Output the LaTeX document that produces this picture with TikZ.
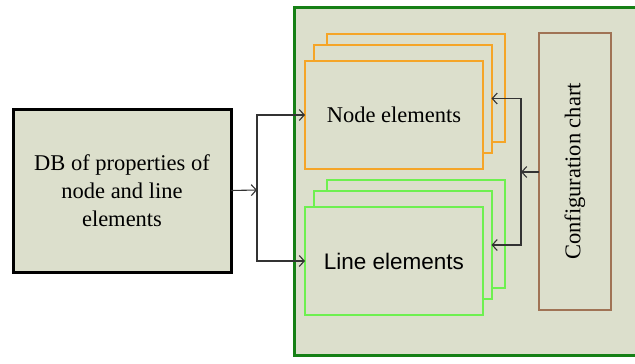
\documentclass[tikz,border=0pt]{standalone}
\usepackage{fontspec}
\setmainfont{Liberation Serif}
\setsansfont{Liberation Sans}
\usetikzlibrary{arrows.meta}
\definecolor{bgc}{RGB}{220,223,204}
\definecolor{darkgr}{RGB}{22,128,22}
\definecolor{orng}{RGB}{245,165,40}
\definecolor{lgrn}{RGB}{110,240,80}
\definecolor{brwn}{RGB}{160,115,85}
\begin{document}
\begin{tikzpicture}[x=1pt,y=-1pt,
  txt/.style={font=\fontsize{22.5}{28}\selectfont, align=center},
  box/.style={draw, fill=bgc, inner sep=0pt, outer sep=0pt},
  obox/.style={box, draw=orng, line width=2pt, minimum width=178pt, minimum height=108pt},
  gbox/.style={box, draw=lgrn, line width=2pt, minimum width=178pt, minimum height=108pt},
  conn/.style={draw=black!80, line width=1.1pt},
  tip/.style={-{Straight Barb[length=5pt,width=11pt,line width=1.1pt]}}
]
\useasboundingbox (0,0) rectangle (635,364);
% outer container
\fill[bgc] (294,7) rectangle (635,355);
\draw[darkgr, line width=3pt] (635,7) -- (294,7) -- (294,355) -- (635,355);
% DB box
\node[box, draw=black, line width=3pt, minimum width=218pt, minimum height=163pt, txt] (db) at (122,190.5) {DB of properties of\\node and line\\elements};
% orange stack
\node[obox] (oback) at (415.5,88) {};
\node[obox] (omid) at (402.5,98.5) {};
\node[obox, txt] (ofront) at (394,115) {Node elements};
% green stack
\node[gbox] (gback) at (415.5,234) {};
\node[gbox] (gmid) at (402.5,245) {};
\node[gbox, txt, font=\sffamily\fontsize{22.5}{28}\selectfont] (gfront) at (394,261) {Line elements};
% configuration chart
\node[box, draw=brwn, line width=2pt, minimum width=72pt, minimum height=277pt] (cfg) at (575,171.5) {};
\node[txt, rotate=90] (cfgtxt) at (cfg.center) {Configuration chart};
% left connectors
\coordinate (j) at (257,190);
\path[conn, tip] (db.east) -- (j);
\path[conn, tip] (j) |- (ofront.west);
\path[conn, tip] (j) |- (gfront.west);
% right connectors
\coordinate (k) at (521,172);
\path[conn, tip] (cfg.west |- k) -- (k);
\path[conn, tip] (k) |- (omid.east);
\path[conn, tip] (k) |- (gmid.east);
\end{tikzpicture}
\end{document}
